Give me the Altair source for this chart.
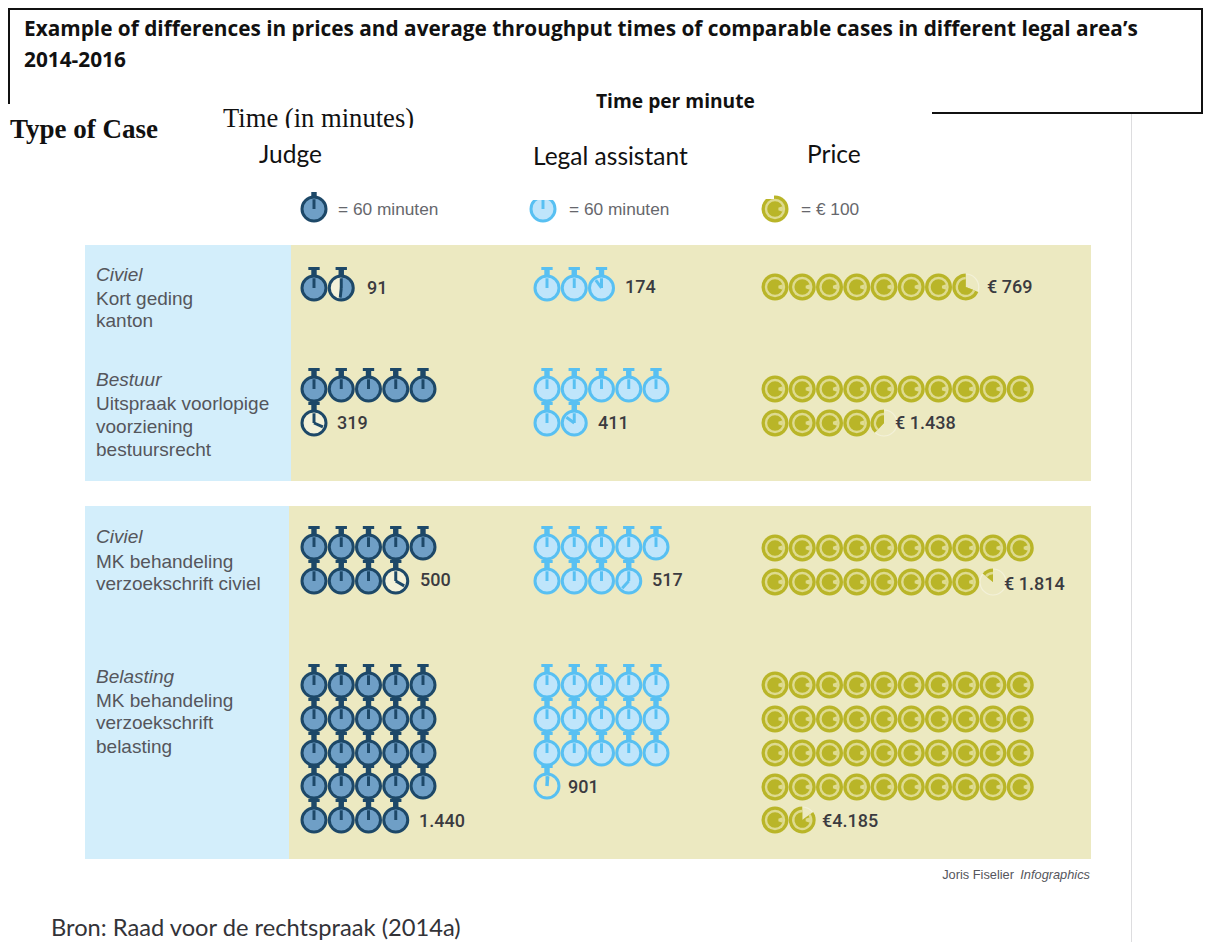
import math
import altair as alt
import pandas as pd

# ---------- values ----------
CASE_AREAS = ["Civiel", "Bestuur", "Civiel", "Belasting"]
CASE_LINES = [["Kort geding", "kanton"],
              ["Uitspraak voorlopige", "voorziening", "bestuursrecht"],
              ["MK behandeling", "verzoekschrift civiel"],
              ["MK behandeling", "verzoekschrift", "belasting"]]
JUDGE_MINUTES = [91, 319, 500, 1440]
ASSISTANT_MINUTES = [174, 411, 517, 901]
PRICES = [769, 1438, 1814, 4185]
JUDGE_LABELS = ["91", "319", "500", "1.440"]
ASSISTANT_LABELS = ["174", "411", "517", "901"]
PRICE_LABELS = ["€ 769", "€ 1.438", "€ 1.814", "€4.185"]
# share of the last, partial stopwatch that is coloured in the picture
JUDGE_PARTIAL_FILL = [0.52, 0, 0, 1]
ASSISTANT_PARTIAL_FILL = [1, 1, 1, 0]

# ---------- layout (screen pixels) ----------
W, H = 1195, 934
X = alt.Scale(domain=[8, 8 + W], nice=False, zero=False)
Y = alt.Scale(domain=[8, 8 + H], nice=False, zero=False, reverse=True)
ROW_Y = [[288], [389, 423], [547, 581], [685, 719, 753, 786, 820]]
COIN_Y = [[287], [389, 423], [548, 582], [685, 719, 753, 787, 820]]
STEP = 27.25
JUDGE_X, ASSIST_X, COIN_X = 314, 547, 775
R = 13.5
JUDGE_LABEL_X = [367, 337, 420, 419]
ASSIST_LABEL_X = [625, 598, 652, 568]
PRICE_LABEL_X = [987, 895, 1004, 822]
LABEL_Y = [294, 429, 586, 827]
ASSIST_LABEL_Y = [293, 429, 586, 793]
PRICE_LABEL_Y = [293, 429, 590, 827]
CAT_Y = [[281, 305, 327], [386, 410, 433, 456], [543, 568, 590], [683, 707, 729, 753]]

TEXT_DARK = "#3b3b40"
TEXT_GRAY = "#55565c"
J_LINE, J_FILL, J_BASE = "#1d4868", "#6f9fc6", "#f3f1d9"
A_LINE, A_FILL = "#58c0f2", "#bfe5fb"
BEIGE = "#ece9c1"
OLIVE, OLIVE_LIGHT = "#b9b528", "#dedb90"

RECTS = [
    (85, 291, 245, 481, "#d3eefb"), (291, 1091, 245, 481, BEIGE),
    (85, 289, 506, 859, "#d3eefb"), (289, 1091, 506, 859, BEIGE),
    (1131, 1132, 113, 942, "#dddddf"),
    # header frame
    (8, 10, 8, 104, "#111111"), (8, 1203, 8, 10, "#111111"),
    (1201, 1203, 8, 113, "#111111"), (932, 1203, 112, 114, "#111111"),
]
MASKS = [(526, 562, 185, 200, "#ffffff"), (760, 774, 190, 199, "#ffffff"),
         (300, 328, 185, 192, "#ffffff")]
TEXT_MASKS = [(220, 420, 128, 140, "#ffffff")]


def rects(rows):
    df = pd.DataFrame(rows, columns=["x", "x2", "y", "y2", "c"])
    return alt.Chart(df).mark_rect(stroke=None).encode(
        x=alt.X("x:Q", scale=X, axis=None), x2="x2:Q",
        y=alt.Y("y:Q", scale=Y, axis=None), y2="y2:Q",
        color=alt.Color("c:N", scale=None))


def texts(rows, font, size, color, weight="normal", style="normal", align="left"):
    df = pd.DataFrame(rows, columns=["t", "x", "y"])
    return alt.Chart(df).mark_text(font=font, fontSize=size, color=color, fontWeight=weight,
                                   fontStyle=style, align=align, baseline="alphabetic").encode(
        x=alt.X("x:Q", scale=X, axis=None), y=alt.Y("y:Q", scale=Y, axis=None), text="t:N")


def watches(minutes, partial_fill, x0, line, fill, base, row_ys):
    rows = []
    for m, pf, ys in zip(minutes, partial_fill, row_ys):
        full, rest = divmod(m, 60)
        n = full + (1 if rest else 0)
        for i in range(n):
            is_partial = i == full
            rows.append(dict(x=x0 + STEP * (i % 5), y=ys[i // 5],
                             t0=0.0, t1=2 * math.pi * (pf if is_partial else 1),
                             base=base if is_partial else fill,
                             partial=is_partial, deg=rest / 60 * 360 if is_partial else 0))
    return rows


def watch_layers(rows, line, fill):
    df = pd.DataFrame(rows)
    ex = dict(x=alt.X("x:Q", scale=X, axis=None), y=alt.Y("y:Q", scale=Y, axis=None))
    size = (2 * R) ** 2
    crown = "M-0.2,-0.9 L0.2,-0.9 L0.2,-1.33 L0.42,-1.33 L0.42,-1.55 L-0.42,-1.55 L-0.42,-1.33 L-0.2,-1.33 Z"
    hand = "M-0.11,0 L-0.11,-0.72 L0.11,-0.72 L0.11,0 Z"
    base_df = df[df["base"] != "none"]
    layers = [
        alt.Chart(base_df).mark_point(shape="circle", filled=True, opacity=1, size=(2 * 12.5) ** 2).encode(
            color=alt.Color("base:N", scale=None), **ex),
        alt.Chart(df[df["t1"] > 0]).mark_arc(outerRadius=12.5, innerRadius=0, fill=fill, stroke=None).encode(
            theta=alt.Theta("t0:Q", scale=None), theta2="t1:Q", **ex),
        alt.Chart(df).mark_point(shape=crown, filled=True, opacity=1, size=size, color=line).encode(**ex),
        alt.Chart(df).mark_point(shape="circle", filled=False, opacity=1, strokeWidth=3,
                                 size=(2 * 12) ** 2, color=line).encode(**ex),
        alt.Chart(df).mark_point(shape=hand, filled=True, opacity=1, size=size, color=line).encode(**ex),
        alt.Chart(df[df["partial"]]).mark_point(shape=hand, filled=True, opacity=1, size=size, color=line).encode(
            angle=alt.Angle("deg:Q", scale=None), **ex),
    ]
    return layers


def coin_layers(prices, row_ys):
    rows = []
    for p, ys in zip(prices, row_ys):
        full, rest = divmod(p, 100)
        n = full + (1 if rest else 0)
        for i in range(n):
            f = rest / 100 if i == full else 1
            rows.append(dict(x=COIN_X + STEP * (i % 10), y=ys[i // 10],
                             t0=2 * math.pi * (1 - f), t1=2 * math.pi, partial=i == full))
    rows.append(dict(x=COIN_X, y=209, t0=0.0, t1=2 * math.pi, partial=False))
    df = pd.DataFrame(rows)
    df["n0"] = df["t0"].clip(lower=math.radians(70))
    df["n1"] = math.radians(110)
    notch = df[df["n0"] < df["n1"]]
    ex = dict(x=alt.X("x:Q", scale=X, axis=None), y=alt.Y("y:Q", scale=Y, axis=None))
    th = dict(theta=alt.Theta("t0:Q", scale=None), theta2="t1:Q")
    return [
        alt.Chart(df[df["partial"]]).mark_point(shape="circle", filled=False, opacity=1, strokeWidth=1.2,
                                                size=(2 * 13) ** 2, color="#f3f1d9").encode(**ex),
        alt.Chart(df).mark_arc(outerRadius=13.5, fill=OLIVE, stroke=None).encode(**th, **ex),
        alt.Chart(df).mark_arc(outerRadius=10.2, fill=OLIVE_LIGHT, stroke=None).encode(**th, **ex),
        alt.Chart(df).mark_arc(outerRadius=7.8, fill=OLIVE, stroke=None).encode(**th, **ex),
        alt.Chart(notch).mark_arc(outerRadius=8, innerRadius=3.5, fill=OLIVE_LIGHT, stroke=None).encode(
            theta=alt.Theta("n0:Q", scale=None), theta2="n1:Q", **ex),
    ]


layers = [rects(RECTS)]

# stopwatches (plus the key row)
j_rows = watches(JUDGE_MINUTES, JUDGE_PARTIAL_FILL, JUDGE_X, J_LINE, J_FILL, J_BASE, ROW_Y)
j_rows.append(dict(x=JUDGE_X, y=209, t0=0.0, t1=2 * math.pi, base=J_FILL, partial=False, deg=0))
a_rows = watches(ASSISTANT_MINUTES, ASSISTANT_PARTIAL_FILL, ASSIST_X, A_LINE, A_FILL, "none", ROW_Y)
a_rows.append(dict(x=543, y=209, t0=0.0, t1=2 * math.pi, base=A_FILL, partial=False, deg=0))
for r in a_rows:
    if r["base"] == A_FILL:
        r["base"] = "none"
layers += watch_layers(j_rows, J_LINE, J_FILL)
layers += watch_layers(a_rows, A_LINE, A_FILL)
layers += coin_layers(PRICES, COIN_Y)
layers.append(rects(MASKS))

# header
layers.append(texts([("Example of differences in prices and average throughput times of comparable cases in different legal area’s", 24, 36),
                     ("2014-2016", 24, 67)], "Open Sans", 20.8, "#111111", weight="bold"))
layers.append(texts([("Time per minute", 596, 108)], "Open Sans", 19.2, "#111111", weight="bold"))
layers.append(texts([("Time (in minutes)", 223, 127)], "Liberation Serif", 26.6, "#111111"))
layers.append(rects(TEXT_MASKS))
layers.append(texts([("Type of Case", 10, 138)], "Liberation Serif", 27, "#111111", weight="bold"))
layers.append(texts([("Judge", 259, 163), ("Legal assistant", 533, 165), ("Price", 807, 163)],
                    "Lato", 24.5, "#111111"))
# key
layers.append(texts([("= 60 minuten", 338, 215), ("= 60 minuten", 569, 215), ("= € 100", 801, 215)],
                    "Liberation Sans", 17.3, "#66676c"))
# categories
area_rows, line_rows = [], []
for area, lines, ys in zip(CASE_AREAS, CASE_LINES, CAT_Y):
    area_rows.append((area, 96, ys[0]))
    line_rows += [(t, 96, y) for t, y in zip(lines, ys[1:])]
layers.append(texts(area_rows, "Liberation Sans", 19, TEXT_GRAY, style="italic"))
layers.append(texts(line_rows, "Liberation Sans", 19, TEXT_GRAY))
# value labels
value_rows = (list(zip(JUDGE_LABELS, JUDGE_LABEL_X, LABEL_Y))
              + list(zip(ASSISTANT_LABELS, ASSIST_LABEL_X, ASSIST_LABEL_Y))
              + list(zip(PRICE_LABELS, PRICE_LABEL_X, PRICE_LABEL_Y)))
layers.append(texts(value_rows, "Roboto", 18, TEXT_DARK, weight=500))
# credits
layers.append(texts([("Joris Fiselier", 1014, 879)], "Liberation Sans", 12.8, TEXT_GRAY, align="right"))
layers.append(texts([("Infographics", 1090, 879)], "Liberation Sans", 12.8, TEXT_GRAY, style="italic", align="right"))
layers.append(texts([("Bron: Raad voor de rechtspraak (2014a)", 51, 936)], "Lato", 23.7, "#333338"))

chart = alt.layer(*layers).properties(
    width=W, height=H, padding=0, background="#ffffff",
    autosize=alt.AutoSizeParams(type="none"),
).configure_view(stroke=None)

chart.save("out.html", embed_options={"renderer": "svg", "actions": False})
